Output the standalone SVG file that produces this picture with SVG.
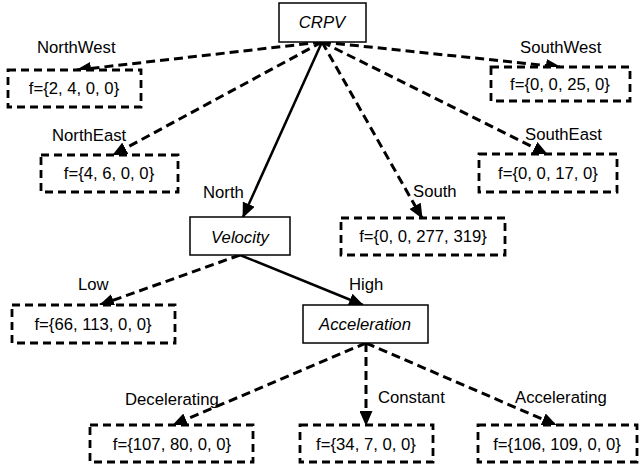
<svg xmlns="http://www.w3.org/2000/svg" width="640" height="473" viewBox="0 0 640 473">
<style>
text{font-family:"Liberation Sans",Arial,sans-serif;font-size:16.7px;fill:#000}
.c{text-anchor:middle}
.i{font-style:italic}
.leaf{fill:#fff;stroke:#000;stroke-width:2.8;stroke-dasharray:8,5}
.attr{fill:#fff;stroke:#000;stroke-width:1.5}
.d{fill:none;stroke:#000;stroke-width:3;stroke-dasharray:9,5;marker-end:url(#ah)}
.s{fill:none;stroke:#000;stroke-width:2.5;marker-end:url(#ah)}
</style>
<defs>
<marker id="ah" markerUnits="userSpaceOnUse" markerWidth="15" markerHeight="13" refX="14" refY="6.5" orient="auto">
<path d="M0,0 L15,6.5 L0,13 z" fill="#000"/>
</marker>
</defs>
<rect width="640" height="473" fill="#fff"/>
<g id="connectors">
<line class="d" x1="322" y1="42" x2="77" y2="70"/>
<line class="d" x1="322" y1="42" x2="113" y2="155"/>
<line class="d" x1="322" y1="42" x2="560" y2="67"/>
<line class="d" x1="322" y1="42" x2="547" y2="154"/>
<line class="d" x1="322" y1="42" x2="422" y2="218"/>
<line class="s" x1="322" y1="42" x2="243" y2="217"/>
<line class="d" x1="240" y1="255" x2="100" y2="305"/>
<line class="s" x1="240" y1="255" x2="363" y2="305"/>
<line class="d" x1="366" y1="343" x2="173" y2="425"/>
<line class="d" x1="366" y1="343" x2="366" y2="425"/>
<line class="d" x1="366" y1="343" x2="556" y2="425"/>
<text x="37" y="53">NorthWest</text>
<text x="52" y="141">NorthEast</text>
<text x="520" y="53">SouthWest</text>
<text x="525" y="140">SouthEast</text>
<text x="203" y="198">North</text>
<text x="413" y="197">South</text>
<text x="78" y="290">Low</text>
<text x="349" y="290">High</text>
<text x="125" y="405">Decelerating</text>
<text x="378" y="403">Constant</text>
<text x="515" y="403">Accelerating</text>
</g>
<g id="crpv"><rect class="attr" x="279" y="3" width="87" height="39"/><text class="c i" x="322" y="28">CRPV</text></g>
<g id="nw"><rect class="leaf" x="8" y="70" width="133" height="37"/><text class="c" x="74" y="94">f={2, 4, 0, 0}</text></g>
<g id="ne"><rect class="leaf" x="41" y="155" width="137" height="37"/><text class="c" x="109" y="179">f={4, 6, 0, 0}</text></g>
<g id="sw"><rect class="leaf" x="491" y="67" width="139" height="34"/><text class="c" x="560" y="90">f={0, 0, 25, 0}</text></g>
<g id="se"><rect class="leaf" x="479" y="154" width="138" height="38"/><text class="c" x="548" y="179">f={0, 0, 17, 0}</text></g>
<g id="south"><rect class="leaf" x="341" y="218" width="164" height="37"/><text class="c" x="423" y="242">f={0, 0, 277, 319}</text></g>
<g id="velocity"><rect class="attr" x="190" y="217" width="100" height="38"/><text class="c i" x="240" y="243">Velocity</text></g>
<g id="low"><rect class="leaf" x="12" y="305" width="163" height="38"/><text class="c" x="93" y="330">f={66, 113, 0, 0}</text></g>
<g id="acceleration"><rect class="attr" x="303" y="305" width="125" height="38"/><text class="c i" x="365" y="330">Acceleration</text></g>
<g id="dec"><rect class="leaf" x="90" y="425" width="163" height="37"/><text class="c" x="172" y="450">f={107, 80, 0, 0}</text></g>
<g id="const"><rect class="leaf" x="300" y="425" width="133" height="37"/><text class="c" x="366" y="450">f={34, 7, 0, 0}</text></g>
<g id="acc"><rect class="leaf" x="478" y="425" width="159" height="37"/><text class="c" x="557" y="450">f={106, 109, 0, 0}</text></g>
</svg>
